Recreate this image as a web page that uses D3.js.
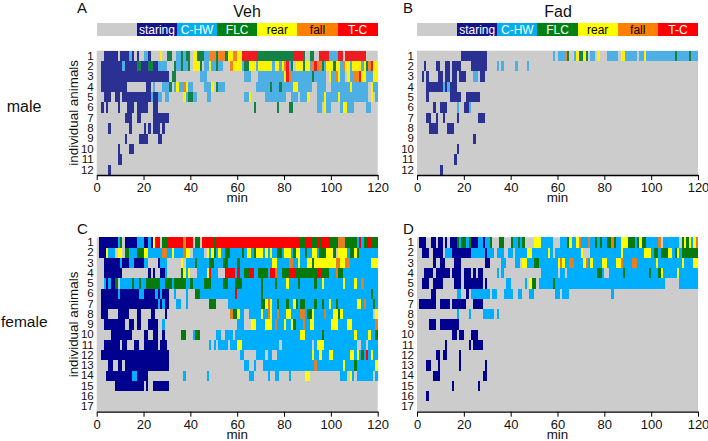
<!DOCTYPE html>
<html><head><meta charset="utf-8">
<script src="https://cdnjs.cloudflare.com/ajax/libs/d3/7.8.5/d3.min.js"></script>
<style>html,body{margin:0;padding:0;background:#fff}svg{display:block}text{font-family:"Liberation Sans",Arial,sans-serif;fill:#111}</style>
</head><body><script>
const behaviours = ["none","staring","C-HW","FLC","rear","fall","T-C"];
const legendTextColor = ["#000","#fff","#fff","#fff","#000","#000","#fff"];
const codes = {s:"staring",c:"C-HW",f:"FLC",r:"rear",a:"fall",t:"T-C"};
const legendColors = {none:"#cccccc",staring:"#14148c","C-HW":"#00aeef",FLC:"#007f12",rear:"#ffff00",fall:"#ff8000","T-C":"#ff0000"};
const maleColors = {staring:"#2b3192","C-HW":"#4dafe4",FLC:"#138247",rear:"#fff200",fall:"#f58220","T-C":"#ed1c24"};
const femaleColors = {staring:"#00008f","C-HW":"#00aeff",FLC:"#067a0a",rear:"#ffff00",fall:"#e58020","T-C":"#ff0000"};
const xTicks = [0,20,40,60,80,100,120];

// each animal: runs of behaviour, code + startMin-endMin
const vehMale = [
"s3-9 s10-14 c14-15 s15-16 s17-18 c20-22 s22-23 r27-28 f30-32 c34-36 f36-37 c37-38 f38-40 r41-43 f43-46 c46-48 a48-51 f51-52 a52-55 f55-56 r56-58 a58-60 r60-62 t62-69 f69-84 t84-88 f88-89 f91-93 t95-99 c99-103 t103-105 t106-115",
"s2-11 c11-12 s12-17 f17-19 s19-22 f22-24 s24-26 c26-30 f33-34 c34-36 f36-37 c37-39 f39-40 r41-44 f44-45 c46-48 r48-49 c49-51 f51-52 c52-54 a57-58 r58-62 c62-63 f63-65 r65-68 c68-69 r69-75 c75-76 r76-78 c78-79 r79-80 a80-81 t81-82 c82-83 f83-84 r85-88 f88-89 r89-91 c91-92 a92-93 t93-94 a94-96 f96-97 c97-98 r98-101 f101-102 r102-104 c104-105 a105-106 r106-108 c108-109 r109-113 c113-114 r114-115 f115-116 a116-117 t117-118 r118-120",
"s2-31 f32-34 c44-47 c63-66 c69-80 r80-81 t81-82 a82-83 c83-92 f92-93 c93-98 r99-100 c100-102 a102-103 r103-104 c104-106 r107-108 c108-110 a110-112 t112-113 r113-115 c115-118 r118-120",
"s2-13 s21-23 c24-25 c28-31 f31-32 c33-34 r34-35 c35-37 a37-38 r38-39 c39-41 c46-49 r49-50 f51-52 c52-55 c68-74 f74-75 c75-78 f78-79 c79-84 r84-86 c86-92 c94-98 c100-108 r108-109 c109-116 r117-118 c118-120",
"s3-6 s8-10 s11-22 s22-23 c23-24 s24-26 c26-28 c29-31 r37-38 c38-39 f39-41 c41-43 c47-49 c63-65 r65-66 c72-81 c83-86 c87-90 r90-91 c94-97 r97-98 c98-103 r103-104 c104-116 r117-118 c119-120",
"s2-3 s4-5 s9-10 s13-16 s17-22 s24-26 f67-68 f77-78 f82-84 c94-96 r97-98 c98-100 c104-105 r105-107 c107-110 c115-117",
"s12-15 s17-19 s24-31",
"s5-6 s14-15 s20-21 s22-23 s24-27 s28-29",
"s12-13 s18-22 s26-28",
"s9-10 s14-16",
"s9-11",
"s5-6"];
const fadMale = [
"s19-30 c58-59 c60-63 a63-64 f64-65 c67-68 r68-69 f69-71 r71-72 f72-73 c74-76 r77-78 c81-86 r87-89 c89-94 c95-97 r97-98 c98-110 f110-111 c111-116 f116-117 c117-120",
"s3-4 s8-10 s12-14 s15-19 s23-30 c34-35 c36-37 c42-43 c47-48",
"s2-3 s4-5 s9-11 s12-14 s15-17 s18-21 c24-26 s27-29",
"s4-11 c11-12 s12-13 c13-14 s14-17",
"s4-5 s14-19 s21-27",
"s7-8 s10-13 c17-18 s20-22 c22-23",
"s4-6 s8-9 s11-12 s17-18 s26-29",
"s5-9 s13-16",
"s24-25",
"s17-18",
"s16-17",
"s10-11"];
const vehFemale = [
"s1-9 c9-10 f10-11 s12-17 c17-20 s20-22 c22-23 s23-24 r24-25 t25-27 f28-30 t30-37 a37-38 t38-41 f42-44 t45-50 f50-51 t51-87 f87-89 t89-92 f92-94 t94-95 f95-96 t96-99 f99-103 a103-106 f106-111 c111-112 t112-113 c113-114 f114-116 t116-117 f117-120",
"s1-4 r4-5 c5-8 r9-11 f12-14 c14-17 f17-20 r20-22 c22-28 a28-30 c30-32 r32-33 c33-37 a37-38 r38-40 c41-46 r47-48 c48-49 r49-50 f50-51 c51-52 r52-53 c53-55 f55-57 c57-62 f62-63 c63-64 r64-66 c66-67 f67-68 r68-71 c71-72 r72-73 c73-74 r74-75 c75-77 f77-79 c79-80 r80-83 c83-84 f84-85 r85-87 c87-89 f89-90 c90-92 r92-94 c94-95 f95-98 r98-101 f101-102 r103-107 c107-108 f108-110 r110-111 f111-112 c112-120",
"s3-10 c10-11 s11-14 c14-16 s16-20 c20-22 s26-27 c27-30 r36-37 c38-42 f42-43 c43-48 f48-50 c50-54 f54-56 c56-60 f60-61 c61-75 r75-77 c77-82 a82-84 c84-86 r86-87 c87-90 r90-92 f92-93 r93-102 a102-104 r104-106 a106-108 c108-117 r117-120",
"s3-11 s22-23 s24-25 s27-29 c29-30 f36-37 r37-38 c38-39 r39-40 c43-47 r47-48 t48-49 c49-52 t55-59 c59-60 t60-61 c61-63 f63-65 t65-67 c67-69 f69-73 c73-74 t74-76 a76-77 c77-79 f79-82 t82-85 f85-94 t94-96 f96-99 c99-102 a102-103 f103-105 c105-120",
"c3-4 s4-5 c5-6 s6-8 f8-9 c10-15 f15-16 c16-18 f18-19 c19-21 f21-27 c27-29 f29-32 c32-33 f33-38 c38-40 f40-41 c41-46 f46-49 c49-54 f54-56 c56-59 f59-62 c62-70 f70-71 c71-76 f76-77 c77-81 r81-82 c82-86 f86-87 c87-93 f93-94 c94-96 r96-97 c97-105 r105-106 c106-110 r110-111 c111-113 a113-114 c114-120",
"s2-9 c9-10 s10-18 c18-20 s20-25 c25-26 s26-27 c27-28 s28-31 c33-34 c38-39 f42-44 c44-59 t59-60 c60-70 f70-71 c71-117 f117-118 c118-120",
"s2-26 c26-27 s27-28 c28-29 s29-31 c34-36 c38-39 f48-51 c56-70 f70-72 r72-73 a73-74 r74-75 c75-77 f77-78 c78-81 f81-82 c82-84 r84-85 f85-86 c86-87 f87-89 c89-93 f93-94 c94-96 f96-97 c97-99 r99-100 c100-102 f102-103 c103-111 r111-113 c113-114 a114-115 c115-118 f118-119 c119-120",
"s2-5 s9-14 s17-19 s23-25 s29-30 a57-58 f58-60 r60-61 c61-63 c65-70 r70-71 c71-73 a73-74 r74-75 c75-77 a77-78 c78-81 r81-83 c83-87 a87-89 c89-90 f90-92 r92-93 c93-97 a97-98 c98-101 r101-103 f103-104 r104-105 c105-118 r119-120",
"s3-12 s14-16 s17-19 s22-26 c28-29 c60-63 r66-68 c68-72 r72-75 c75-76 a76-77 c77-80 r80-81 c81-83 r83-84 f84-85 c85-88 a88-89 c89-91 r91-93 c93-100 r100-103 c103-107 r107-109 c109-119 a119-120",
"s6-15 s20-22 s24-26 s28-29 f36-38 c41-42 f42-44 c51-53 c55-57 c57-58 c59-87 r87-89 c89-96 f96-97 c97-110 r110-111 c111-116 r116-117 c117-119 f119-120",
"s3-10 s11-12 s12-13 s16-18 s20-26 s27-30 c48-49 c50-51 c52-56 c57-59 c59-60 r60-62 c62-78 c79-92 c93-94 r94-97 c97-111 c113-115 c116-118 c118-120",
"s2-31 c61-63 c68-72 c73-75 c77-92 r92-93 c93-95 r95-96 c96-99 r99-101 c101-108 r108-110 c110-111 r111-112 c112-113 f113-114 c114-115 t115-116 c116-117 r117-118 c118-120",
"s5-7 s9-11 s12-13 s13-31 c63-65 c67-68 c71-93 a93-94 c94-105 r105-106 c106-110 f110-111 c111-119 r119-120",
"s4-15 c15-17 s17-22 c37-38 c47-48 c65-67 c73-74 c76-78 c82-83 r89-91 c104-107 r108-109 c109-110 c111-118 c119-120",
"s8-20 s21-22 s24-31",
"",
""];
const fadFemale = [
"s1-4 s6-8 s9-11 s12-13 s14-17 f17-18 c18-19 f19-21 c21-22 f22-23 s23-26 c26-28 s28-29 c29-31 f31-32 f35-37 f40-41 c41-43 f43-44 c44-45 f45-46 r50-53 c53-55 c55-58 c61-64 f64-65 r65-66 c66-68 r68-69 a69-70 c70-73 a73-74 c74-76 f76-77 c77-78 f78-79 c79-81 f81-83 a83-84 f84-85 c85-87 r87-90 f90-93 c93-94 f94-95 r95-96 f96-98 c98-103 a103-104 c105-112 f113-114 r114-115 f115-116 r116-117 c117-118 r118-119 a119-120",
"s2-5 s7-11 c12-15 s15-23 c23-29 s29-30 c30-33 c34-37 c39-41 c42-47 r47-49 c49-56 r56-57 c57-58 c59-70 r70-71 c74-87 r87-88 c88-97 r97-100 c100-101 f101-103 c103-104 f104-107 r107-109 c109-110 f110-111 r111-112 c112-113 f113-120",
"s7-8 s10-12 s16-19 s29-31 c36-38 c42-44 r45-47 c47-50 f50-52 c52-60 r60-61 a61-62 r62-63 c63-65 a65-67 c67-71 r71-72 a72-73 c73-74 r74-75 c75-79 r79-81 c81-85 r85-87 a87-88 c88-92 a92-94 c94-102 r102-103 c103-113 r113-114 c114-118 r118-120",
"s3-7 s8-14 s15-19 s20-23 s24-25 s26-28 c34-35 c36-37 c53-60 c61-63 c64-77 f77-79 c79-80 c82-88 f88-89 c89-99 f99-100 c100-103 f103-104 r104-105 c105-111 r111-112 c112-120",
"s2-5 s7-11 s16-19 s20-28 s29-30 c38-40 c46-47 r48-49 f49-51 c52-58 f58-59 c59-106 c112-120",
"s6-8 c17-18 c18-19 s21-22 c23-31 c32-34 c37-41 c43-45 c48-50 c59-61 c62-65 c83-84",
"s1-8 s10-14 s15-21 s24-28",
"c17-18 c22-23 c28-33 c34-35",
"s5-8 s10-18",
"s15-17 s18-20 s23-26",
"s12-13 s22-23 s24-28",
"s8-10 s11-13 s18-19",
"s4-6 s9-10 s18-19 s29-30",
"s7-10 s28-30",
"s15-16 s26-27",
"s4-5",
""];

const svg = d3.select("body").append("svg").attr("width",708).attr("height",441);
const panels = [
 {letter:"A",title:"Veh",tx:247,data:vehMale,pal:maleColors,x0:96.7,x1:377.7,y0:50.7,y1:175,lx:77,ly:13},
 {letter:"B",title:"Fad",tx:558,data:fadMale,pal:maleColors,x0:417,x1:698,y0:50.7,y1:175,lx:403,ly:13},
 {letter:"C",title:null,data:vehFemale,pal:femaleColors,x0:96.7,x1:377.7,y0:237.3,y1:411.7,lx:77,ly:234},
 {letter:"D",title:null,data:fadFemale,pal:femaleColors,x0:417,x1:698,y0:237.3,y1:411.7,lx:403,ly:234}];
const parse = s => s.split(" ").filter(Boolean).map(t=>{const m=t.match(/^([a-z])([\d.]+)-([\d.]+)$/);return {b:codes[m[1]],s:+m[2],e:+m[3]};});

panels.forEach(p=>{
  const g=svg.append("g");
  const x=d3.scaleLinear().domain([0,120]).range([p.x0,p.x1]);
  const rows=p.data.map((_,i)=>i+1);
  const y=d3.scaleBand().domain(rows).range([p.y0,p.y1]);
  g.append("rect").attr("x",p.x0).attr("y",p.y0).attr("width",p.x1-p.x0).attr("height",p.y1-p.y0).attr("fill","#cccccc");
  p.data.forEach((d,i)=>{
    g.selectAll(null).data(parse(d)).join("rect")
     .attr("x",r=>x(r.s)).attr("width",r=>x(r.e)-x(r.s))
     .attr("y",y(i+1)).attr("height",y.bandwidth())
     .attr("fill",r=>p.pal[r.b]).attr("shape-rendering","crispEdges");
  });
  const ax=g.append("g").attr("transform",`translate(0,${p.y1})`)
    .call(d3.axisBottom(x).tickValues(xTicks).tickSize(5).tickPadding(3).tickSizeOuter(0));
  ax.select(".domain").attr("stroke","#000").attr("stroke-width",1.3);
  ax.selectAll("line").attr("stroke","#000").attr("stroke-width",1);
  ax.selectAll("text").attr("font-size",13).style("font-family",'"Liberation Sans",Arial,sans-serif').attr("fill","#111");
  const ay=g.append("g").attr("transform",`translate(${p.x0},0)`)
    .call(d3.axisLeft(y).tickSize(0).tickPadding(3));
  ay.select(".domain").remove();
  ay.selectAll("text").attr("font-size",11.5).style("font-family",'"Liberation Sans",Arial,sans-serif').attr("fill","#111");
  g.append("text").attr("x",(p.x0+p.x1)/2).attr("y",p.y1+27).attr("text-anchor","middle").attr("font-size",13.4).text("min");
  g.append("text").attr("x",p.lx).attr("y",p.ly).attr("font-size",15).text(p.letter);
  if(p.title){
    g.append("text").attr("x",p.tx).attr("y",17).attr("text-anchor","middle").attr("font-size",16).text(p.title);
    const lg=d3.scaleBand().domain(behaviours).range([p.x0,p.x1]);
    const seg=g.append("g").selectAll("g").data(behaviours).join("g");
    seg.append("rect").attr("x",b=>lg(b)).attr("y",23.3).attr("width",lg.bandwidth()).attr("height",12.7).attr("fill",b=>legendColors[b]).attr("shape-rendering","crispEdges");
    seg.filter(b=>b!=="none").append("text").attr("x",b=>lg(b)+lg.bandwidth()/2).attr("y",34).attr("text-anchor","middle").attr("font-size",12)
       .style("fill",b=>legendTextColor[behaviours.indexOf(b)]).text(b=>b);
  }
  if(p.letter==="A"||p.letter==="C"){
    g.append("text").attr("transform",`translate(78,${(p.y0+p.y1)/2}) rotate(-90)`).attr("text-anchor","middle").attr("font-size",13.4).text("individual animals");
  }
});
svg.append("text").attr("x",6.7).attr("y",112).attr("font-size",16).text("male");
svg.append("text").attr("x",1).attr("y",327).attr("font-size",15.5).text("female");
</script></body></html>
